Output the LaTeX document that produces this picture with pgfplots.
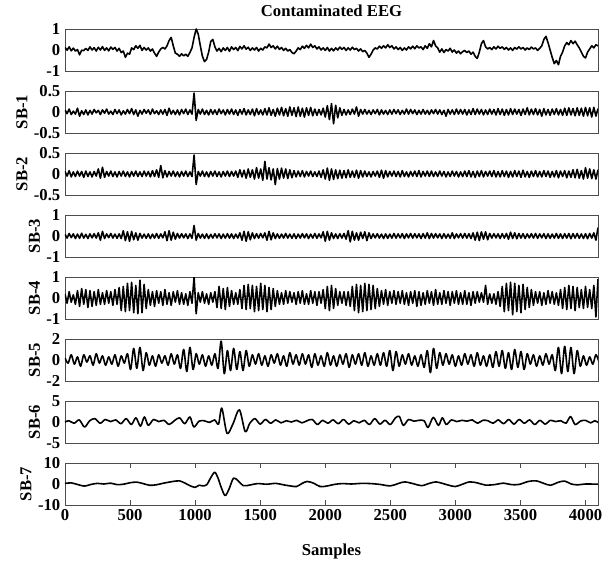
\documentclass[border=0pt]{standalone}
\usepackage{fontspec}
\setmainfont{Liberation Serif}
\usepackage{pgfplots}
\pgfplotsset{compat=1.18}

% one sub-band panel, 533 x 42 px (1 px = 0.75 pt)
\pgfplotsset{
  panel/.style={
    scale only axis, width=399.75pt, height=31.5pt,
    xmin=0, xmax=4096,
    axis line style={black!70, line width=0.6pt},
    xtick=\empty,
    ytick style={draw=none},
    tick label style={font=\fontsize{12.5}{14}\selectfont\bfseries},
    label style={font=\fontsize{12.5}{14}\selectfont\bfseries},
    title style={font=\fontsize{12.5}{14}\selectfont\bfseries},
    ylabel style={yshift=-2pt},
    cycle list={{black, mark=none}},
    every axis plot post/.append style={line width=1.2pt, line join=round},
  },
}

\begin{document}
\begin{tikzpicture}
\path[use as bounding box] (0,0) rectangle (456pt,-425.25pt);

% Contaminated EEG
\begin{axis}[panel, at={(48.75pt,-21.75pt)}, anchor=north west,
  ymin=-1, ymax=1, ytick={-1,0,1}, yticklabels={-1,0,1},
  title={Contaminated EEG}]
\addplot table[header=false, row sep=\\, x expr=\coordindex*16, y index=0] {
0.13\\ -0.01\\ 0.15\\ -0.04\\ 0.09\\ -0.05\\ 0.02\\ -0.23\\ -0.01\\ -0.03\\ 0.07\\ -0.02\\ 0.15\\ 0.0\\ 0.11\\ -0.05\\
0.13\\ 0.0\\ 0.16\\ -0.02\\ 0.1\\ -0.04\\ 0.14\\ 0.03\\ 0.12\\ -0.05\\ 0.08\\ -0.12\\ -0.05\\ -0.35\\ -0.15\\ -0.2\\
0.1\\ 0.02\\ 0.2\\ 0.08\\ 0.22\\ -0.02\\ 0.12\\ 0.0\\ 0.1\\ -0.05\\ 0.05\\ -0.15\\ -0.3\\ -0.1\\ 0.05\\ 0.12\\
0.05\\ 0.2\\ 0.45\\ 0.6\\ 0.2\\ -0.15\\ -0.2\\ -0.3\\ -0.18\\ -0.28\\ -0.2\\ -0.3\\ -0.12\\ 0.1\\ 0.6\\ 1.0\\
0.75\\ 0.2\\ -0.3\\ -0.55\\ -0.45\\ -0.1\\ 0.4\\ 0.5\\ 0.15\\ -0.05\\ 0.08\\ -0.08\\ 0.1\\ -0.02\\ 0.12\\ -0.06\\
0.15\\ 0.02\\ 0.12\\ -0.03\\ 0.17\\ 0.05\\ 0.2\\ 0.04\\ 0.13\\ -0.02\\ 0.1\\ 0.0\\ 0.12\\ -0.05\\ 0.08\\ 0.0\\
0.15\\ 0.1\\ 0.28\\ 0.12\\ 0.2\\ 0.05\\ 0.18\\ 0.03\\ 0.12\\ -0.02\\ 0.08\\ -0.05\\ 0.02\\ -0.12\\ -0.18\\ -0.05\\
0.1\\ 0.02\\ 0.18\\ 0.08\\ 0.22\\ 0.1\\ 0.28\\ 0.12\\ 0.2\\ 0.05\\ 0.15\\ 0.0\\ 0.1\\ -0.02\\ 0.12\\ -0.05\\
0.08\\ -0.04\\ 0.1\\ 0.0\\ 0.14\\ 0.03\\ 0.12\\ -0.02\\ 0.1\\ 0.0\\ 0.13\\ 0.02\\ 0.08\\ -0.05\\ 0.05\\ -0.08\\
-0.02\\ -0.15\\ -0.35\\ -0.2\\ 0.0\\ 0.1\\ 0.05\\ 0.18\\ 0.08\\ 0.2\\ 0.1\\ 0.25\\ 0.12\\ 0.2\\ 0.05\\ 0.15\\
0.02\\ 0.12\\ -0.02\\ 0.1\\ 0.0\\ 0.15\\ 0.05\\ 0.18\\ 0.06\\ 0.2\\ 0.1\\ 0.15\\ 0.02\\ 0.2\\ 0.08\\ 0.3\\
0.15\\ 0.45\\ 0.2\\ 0.1\\ -0.1\\ 0.05\\ -0.12\\ 0.02\\ -0.05\\ 0.08\\ -0.1\\ 0.0\\ -0.15\\ -0.05\\ -0.18\\ -0.08\\
-0.02\\ -0.12\\ -0.05\\ -0.2\\ -0.1\\ -0.3\\ -0.4\\ -0.1\\ 0.3\\ 0.45\\ 0.15\\ 0.05\\ 0.12\\ 0.02\\ 0.15\\ 0.05\\
0.18\\ 0.08\\ 0.15\\ 0.03\\ 0.12\\ 0.0\\ 0.1\\ -0.02\\ 0.12\\ 0.04\\ 0.15\\ 0.05\\ 0.12\\ 0.0\\ 0.1\\ 0.02\\
0.14\\ 0.05\\ 0.1\\ -0.02\\ 0.08\\ 0.2\\ 0.5\\ 0.65\\ 0.35\\ 0.0\\ -0.35\\ -0.65\\ -0.5\\ -0.7\\ -0.3\\ -0.1\\
0.2\\ 0.35\\ 0.25\\ 0.45\\ 0.3\\ 0.42\\ 0.25\\ 0.1\\ -0.1\\ -0.3\\ -0.38\\ -0.1\\ 0.05\\ 0.2\\ 0.1\\ 0.25\\
0.2\\
};
\end{axis}

% SB-1
\begin{axis}[panel, at={(48.75pt,-68.25pt)}, anchor=north west,
  ymin=-0.5, ymax=0.5, ytick={-0.5,0,0.5}, yticklabels={-0.5,0,0.5},
  ylabel={SB-1}]
\addplot table[header=false, row sep=\\, x expr=\coordindex*16, y index=0] {
0.05\\ -0.04\\ 0.07\\ -0.06\\ 0.02\\ -0.05\\ 0.09\\ -0.1\\ 0.03\\ -0.06\\ 0.05\\ -0.07\\ 0.04\\ -0.05\\ 0.06\\ -0.02\\
0.04\\ -0.06\\ 0.05\\ -0.03\\ 0.07\\ -0.05\\ 0.02\\ -0.06\\ 0.06\\ -0.04\\ 0.05\\ -0.07\\ 0.03\\ -0.05\\ 0.06\\ -0.04\\
0.08\\ -0.06\\ 0.05\\ -0.1\\ 0.04\\ -0.05\\ 0.06\\ -0.03\\ 0.05\\ -0.06\\ 0.07\\ -0.04\\ 0.03\\ -0.06\\ 0.05\\ -0.05\\
0.06\\ -0.08\\ 0.09\\ -0.05\\ 0.04\\ -0.06\\ 0.05\\ -0.07\\ 0.06\\ -0.04\\ 0.07\\ -0.06\\ 0.05\\ -0.05\\ 0.45\\ -0.2\\
0.06\\ -0.05\\ 0.07\\ -0.06\\ 0.04\\ -0.07\\ 0.06\\ -0.05\\ 0.05\\ -0.06\\ 0.07\\ -0.04\\ 0.05\\ -0.07\\ 0.06\\ -0.05\\
0.07\\ -0.06\\ 0.05\\ -0.08\\ 0.06\\ -0.05\\ 0.08\\ -0.07\\ 0.05\\ -0.06\\ 0.07\\ -0.09\\ 0.08\\ -0.06\\ 0.05\\ -0.07\\
0.08\\ -0.07\\ 0.1\\ -0.08\\ 0.06\\ -0.1\\ 0.09\\ -0.07\\ 0.11\\ -0.09\\ 0.08\\ -0.1\\ 0.12\\ -0.08\\ 0.1\\ -0.11\\
0.12\\ -0.1\\ 0.09\\ -0.12\\ 0.1\\ -0.08\\ 0.11\\ -0.09\\ 0.07\\ -0.08\\ 0.06\\ -0.07\\ 0.09\\ -0.12\\ 0.15\\ -0.18\\
0.2\\ -0.28\\ 0.16\\ -0.14\\ 0.1\\ -0.08\\ 0.06\\ -0.07\\ 0.05\\ -0.06\\ 0.07\\ -0.05\\ 0.12\\ -0.1\\ 0.06\\ -0.05\\
0.06\\ -0.05\\ 0.04\\ -0.06\\ 0.05\\ -0.04\\ 0.06\\ -0.07\\ 0.05\\ -0.05\\ 0.04\\ -0.06\\ 0.05\\ -0.05\\ 0.06\\ -0.04\\
0.05\\ -0.06\\ 0.04\\ -0.05\\ 0.07\\ -0.05\\ 0.06\\ -0.04\\ 0.05\\ -0.06\\ 0.04\\ -0.05\\ 0.06\\ -0.05\\ 0.04\\ -0.06\\
0.05\\ -0.04\\ 0.06\\ -0.05\\ 0.05\\ -0.06\\ 0.04\\ -0.1\\ 0.06\\ -0.05\\ 0.05\\ -0.06\\ 0.07\\ -0.05\\ 0.06\\ -0.05\\
0.06\\ -0.07\\ 0.05\\ -0.06\\ 0.08\\ -0.06\\ 0.07\\ -0.05\\ 0.06\\ -0.07\\ 0.05\\ -0.06\\ 0.07\\ -0.05\\ 0.06\\ -0.07\\
0.08\\ -0.06\\ 0.07\\ -0.08\\ 0.06\\ -0.07\\ 0.08\\ -0.06\\ 0.07\\ -0.05\\ 0.06\\ -0.08\\ 0.07\\ -0.06\\ 0.1\\ -0.07\\
0.07\\ -0.06\\ 0.08\\ -0.07\\ 0.06\\ -0.1\\ 0.08\\ -0.07\\ 0.06\\ -0.08\\ 0.07\\ -0.06\\ 0.08\\ -0.07\\ 0.06\\ -0.08\\
0.09\\ -0.08\\ 0.1\\ -0.07\\ 0.08\\ -0.09\\ 0.1\\ -0.08\\ 0.09\\ -0.1\\ 0.11\\ -0.09\\ 0.1\\ -0.12\\ 0.11\\ -0.1\\
0.08\\
};
\end{axis}

% SB-2
\begin{axis}[panel, at={(48.75pt,-114.75pt)}, anchor=north west,
  ymin=-0.5, ymax=0.5, ytick={-0.5,0,0.5}, yticklabels={-0.5,0,0.5},
  ylabel={SB-2}]
\addplot table[header=false, row sep=\\, x expr=\coordindex*16, y index=0] {
0.06\\ -0.05\\ 0.08\\ -0.07\\ 0.05\\ -0.06\\ 0.07\\ -0.05\\ 0.06\\ -0.08\\ 0.07\\ -0.06\\ 0.05\\ -0.07\\ 0.06\\ -0.05\\
0.12\\ -0.1\\ 0.16\\ -0.08\\ 0.06\\ -0.05\\ 0.07\\ -0.06\\ 0.05\\ -0.07\\ 0.06\\ -0.05\\ 0.07\\ -0.06\\ 0.05\\ -0.07\\
0.06\\ -0.05\\ 0.07\\ -0.06\\ 0.05\\ -0.06\\ 0.07\\ -0.05\\ 0.06\\ -0.07\\ 0.08\\ -0.06\\ 0.1\\ -0.08\\ 0.2\\ -0.09\\
0.08\\ -0.07\\ 0.06\\ -0.05\\ 0.07\\ -0.06\\ 0.05\\ -0.07\\ 0.06\\ -0.05\\ 0.07\\ -0.06\\ 0.05\\ -0.06\\ 0.45\\ -0.25\\
0.06\\ -0.05\\ 0.07\\ -0.06\\ 0.05\\ -0.07\\ 0.06\\ -0.05\\ 0.07\\ -0.06\\ 0.05\\ -0.07\\ 0.06\\ -0.05\\ 0.07\\ -0.06\\
0.06\\ -0.05\\ 0.07\\ -0.08\\ 0.1\\ -0.07\\ 0.09\\ -0.1\\ 0.12\\ -0.08\\ 0.1\\ -0.12\\ 0.15\\ -0.1\\ 0.12\\ -0.15\\
0.3\\ -0.12\\ 0.15\\ -0.14\\ 0.12\\ -0.25\\ 0.13\\ -0.12\\ 0.14\\ -0.1\\ 0.12\\ -0.11\\ 0.1\\ -0.09\\ 0.08\\ -0.07\\
0.07\\ -0.06\\ 0.08\\ -0.07\\ 0.06\\ -0.05\\ 0.07\\ -0.06\\ 0.05\\ -0.06\\ 0.07\\ -0.08\\ 0.1\\ -0.12\\ 0.14\\ -0.15\\
0.12\\ -0.13\\ 0.1\\ -0.11\\ 0.09\\ -0.1\\ 0.08\\ -0.09\\ 0.1\\ -0.08\\ 0.07\\ -0.08\\ 0.09\\ -0.1\\ 0.08\\ -0.07\\
0.07\\ -0.06\\ 0.05\\ -0.07\\ 0.06\\ -0.05\\ 0.07\\ -0.08\\ 0.09\\ -0.1\\ 0.08\\ -0.07\\ 0.06\\ -0.05\\ 0.07\\ -0.06\\
0.06\\ -0.07\\ 0.08\\ -0.06\\ 0.05\\ -0.07\\ 0.06\\ -0.05\\ 0.07\\ -0.06\\ 0.08\\ -0.07\\ 0.06\\ -0.05\\ 0.07\\ -0.06\\
0.07\\ -0.06\\ 0.05\\ -0.06\\ 0.07\\ -0.05\\ 0.06\\ -0.07\\ 0.05\\ -0.06\\ 0.07\\ -0.05\\ 0.06\\ -0.07\\ 0.05\\ -0.06\\
0.07\\ -0.06\\ 0.08\\ -0.07\\ 0.06\\ -0.08\\ 0.07\\ -0.06\\ 0.08\\ -0.07\\ 0.06\\ -0.05\\ 0.07\\ -0.06\\ 0.08\\ -0.07\\
0.06\\ -0.07\\ 0.08\\ -0.06\\ 0.07\\ -0.08\\ 0.06\\ -0.07\\ 0.08\\ -0.06\\ 0.07\\ -0.08\\ 0.09\\ -0.07\\ 0.06\\ -0.08\\
0.07\\ -0.06\\ 0.08\\ -0.07\\ 0.06\\ -0.07\\ 0.08\\ -0.06\\ 0.07\\ -0.08\\ 0.06\\ -0.07\\ 0.08\\ -0.09\\ 0.07\\ -0.06\\
0.08\\ -0.09\\ 0.07\\ -0.08\\ 0.1\\ -0.09\\ 0.11\\ -0.1\\ 0.08\\ -0.12\\ 0.15\\ -0.1\\ 0.12\\ -0.11\\ 0.1\\ -0.12\\
0.1\\
};
\end{axis}

% SB-3
\begin{axis}[panel, at={(48.75pt,-161.25pt)}, anchor=north west,
  ymin=-1, ymax=1, ytick={-1,0,1}, yticklabels={-1,0,1},
  ylabel={SB-3}]
\addplot table[header=false, row sep=\\, x expr=\coordindex*16, y index=0] {
0.08\\ -0.1\\ 0.12\\ -0.08\\ 0.1\\ -0.12\\ 0.09\\ -0.11\\ 0.13\\ -0.1\\ 0.08\\ -0.12\\ 0.1\\ -0.09\\ 0.11\\ -0.1\\
0.15\\ -0.2\\ 0.22\\ -0.12\\ 0.1\\ -0.08\\ 0.12\\ -0.1\\ 0.09\\ -0.11\\ 0.1\\ -0.12\\ 0.25\\ -0.22\\ 0.2\\ -0.25\\
0.22\\ -0.18\\ 0.15\\ -0.2\\ 0.12\\ -0.1\\ 0.09\\ -0.11\\ 0.1\\ -0.12\\ 0.09\\ -0.1\\ 0.12\\ -0.11\\ 0.1\\ -0.09\\
0.2\\ -0.22\\ 0.25\\ -0.2\\ 0.18\\ -0.15\\ 0.12\\ -0.1\\ 0.11\\ -0.09\\ 0.1\\ -0.12\\ 0.1\\ -0.11\\ 0.5\\ -0.2\\
0.12\\ -0.1\\ 0.09\\ -0.11\\ 0.1\\ -0.12\\ 0.08\\ -0.1\\ 0.11\\ -0.09\\ 0.1\\ -0.12\\ 0.09\\ -0.1\\ 0.11\\ -0.1\\
0.1\\ -0.12\\ 0.09\\ -0.1\\ 0.15\\ -0.2\\ 0.22\\ -0.25\\ 0.2\\ -0.18\\ 0.15\\ -0.12\\ 0.11\\ -0.1\\ 0.12\\ -0.09\\
0.15\\ -0.2\\ 0.22\\ -0.18\\ 0.15\\ -0.12\\ 0.1\\ -0.11\\ 0.09\\ -0.1\\ 0.12\\ -0.1\\ 0.09\\ -0.11\\ 0.1\\ -0.12\\
0.09\\ -0.1\\ 0.11\\ -0.09\\ 0.1\\ -0.12\\ 0.09\\ -0.1\\ 0.12\\ -0.11\\ 0.1\\ -0.09\\ 0.2\\ -0.25\\ 0.22\\ -0.2\\
0.15\\ -0.12\\ 0.1\\ -0.12\\ 0.11\\ -0.1\\ 0.12\\ -0.15\\ 0.25\\ -0.28\\ 0.22\\ -0.2\\ 0.15\\ -0.2\\ 0.18\\ -0.12\\
0.2\\ -0.22\\ 0.15\\ -0.12\\ 0.1\\ -0.09\\ 0.11\\ -0.1\\ 0.09\\ -0.12\\ 0.1\\ -0.11\\ 0.09\\ -0.1\\ 0.12\\ -0.1\\
0.1\\ -0.09\\ 0.11\\ -0.12\\ 0.1\\ -0.09\\ 0.12\\ -0.1\\ 0.11\\ -0.09\\ 0.1\\ -0.12\\ 0.11\\ -0.1\\ 0.15\\ -0.12\\
0.12\\ -0.1\\ 0.11\\ -0.09\\ 0.1\\ -0.12\\ 0.11\\ -0.1\\ 0.09\\ -0.11\\ 0.15\\ -0.12\\ 0.1\\ -0.09\\ 0.11\\ -0.1\\
0.12\\ -0.1\\ 0.11\\ -0.12\\ 0.15\\ -0.2\\ 0.18\\ -0.22\\ 0.2\\ -0.15\\ 0.2\\ -0.18\\ 0.12\\ -0.1\\ 0.11\\ -0.09\\
0.1\\ -0.12\\ 0.11\\ -0.1\\ 0.12\\ -0.15\\ 0.18\\ -0.12\\ 0.15\\ -0.13\\ 0.12\\ -0.1\\ 0.11\\ -0.12\\ 0.1\\ -0.09\\
0.11\\ -0.1\\ 0.12\\ -0.11\\ 0.1\\ -0.09\\ 0.11\\ -0.12\\ 0.1\\ -0.11\\ 0.09\\ -0.1\\ 0.12\\ -0.11\\ 0.1\\ -0.12\\
0.11\\ -0.1\\ 0.12\\ -0.13\\ 0.11\\ -0.1\\ 0.12\\ -0.11\\ 0.1\\ -0.12\\ 0.11\\ -0.13\\ 0.12\\ -0.1\\ 0.15\\ -0.2\\
0.4\\
};
\end{axis}

% SB-4
\begin{axis}[panel, at={(48.75pt,-207.75pt)}, anchor=north west,
  ymin=-1, ymax=1, ytick={-1,0,1}, yticklabels={-1,0,1},
  ylabel={SB-4}]
\addplot table[header=false, row sep=\\, x expr=\coordindex*16, y index=0] {
0.2\\ -0.25\\ 0.3\\ -0.2\\ 0.15\\ -0.3\\ 0.35\\ -0.4\\ 0.45\\ -0.3\\ 0.4\\ -0.45\\ 0.35\\ -0.4\\ 0.3\\ -0.35\\
0.4\\ -0.3\\ 0.25\\ -0.3\\ 0.35\\ -0.25\\ 0.3\\ -0.35\\ 0.4\\ -0.3\\ 0.5\\ -0.6\\ 0.55\\ -0.65\\ 0.7\\ -0.6\\
0.75\\ -0.7\\ 0.6\\ -0.75\\ 0.85\\ -0.7\\ 0.65\\ -0.5\\ 0.4\\ -0.35\\ 0.3\\ -0.4\\ 0.35\\ -0.25\\ 0.3\\ -0.35\\
0.4\\ -0.3\\ 0.25\\ -0.35\\ 0.3\\ -0.2\\ 0.35\\ -0.3\\ 0.25\\ -0.3\\ 0.2\\ -0.35\\ 0.3\\ -0.25\\ 1.0\\ -0.75\\
0.25\\ -0.2\\ 0.3\\ -0.25\\ 0.2\\ -0.3\\ 0.25\\ -0.2\\ 0.3\\ -0.45\\ 0.55\\ -0.5\\ 0.45\\ -0.55\\ 0.5\\ -0.4\\
0.35\\ -0.3\\ 0.25\\ -0.3\\ 0.4\\ -0.5\\ 0.6\\ -0.55\\ 0.65\\ -0.5\\ 0.6\\ -0.65\\ 0.55\\ -0.6\\ 0.7\\ -0.55\\
0.6\\ -0.65\\ 0.5\\ -0.55\\ 0.45\\ -0.4\\ 0.35\\ -0.3\\ 0.25\\ -0.3\\ 0.35\\ -0.25\\ 0.3\\ -0.2\\ 0.25\\ -0.3\\
0.3\\ -0.25\\ 0.35\\ -0.3\\ 0.2\\ -0.3\\ 0.35\\ -0.25\\ 0.3\\ -0.35\\ 0.3\\ -0.25\\ 0.4\\ -0.5\\ 0.55\\ -0.6\\
0.6\\ -0.5\\ 0.45\\ -0.35\\ 0.3\\ -0.25\\ 0.3\\ -0.35\\ 0.3\\ -0.4\\ 0.55\\ -0.6\\ 0.65\\ -0.7\\ 0.6\\ -0.65\\
0.7\\ -0.6\\ 0.65\\ -0.55\\ 0.6\\ -0.5\\ 0.45\\ -0.4\\ 0.35\\ -0.3\\ 0.4\\ -0.35\\ 0.3\\ -0.25\\ 0.35\\ -0.3\\
0.3\\ -0.25\\ 0.35\\ -0.3\\ 0.25\\ -0.35\\ 0.3\\ -0.25\\ 0.35\\ -0.4\\ 0.3\\ -0.35\\ 0.25\\ -0.3\\ 0.35\\ -0.25\\
0.3\\ -0.35\\ 0.4\\ -0.3\\ 0.25\\ -0.3\\ 0.35\\ -0.25\\ 0.3\\ -0.35\\ 0.3\\ -0.25\\ 0.35\\ -0.3\\ 0.25\\ -0.3\\
0.35\\ -0.3\\ 0.25\\ -0.35\\ 0.3\\ -0.25\\ 0.3\\ -0.2\\ 0.25\\ -0.2\\ 0.6\\ -0.3\\ 0.2\\ -0.25\\ 0.2\\ -0.3\\
0.3\\ -0.4\\ 0.55\\ -0.65\\ 0.7\\ -0.6\\ 0.75\\ -0.8\\ 0.7\\ -0.65\\ 0.6\\ -0.7\\ 0.65\\ -0.55\\ 0.5\\ -0.45\\
0.4\\ -0.35\\ 0.3\\ -0.25\\ 0.3\\ -0.35\\ 0.25\\ -0.3\\ 0.35\\ -0.25\\ 0.3\\ -0.3\\ 0.25\\ -0.35\\ 0.4\\ -0.5\\
0.5\\ -0.55\\ 0.6\\ -0.5\\ 0.55\\ -0.6\\ 0.5\\ -0.45\\ 0.4\\ -0.5\\ 0.55\\ -0.45\\ 0.4\\ -0.5\\ 0.6\\ -0.9\\
0.9\\
};
\end{axis}

% SB-5
\begin{axis}[panel, at={(48.75pt,-254.25pt)}, anchor=north west,
  ymin=-2, ymax=2, ytick={-2,0,2}, yticklabels={-2,0,2},
  ylabel={SB-5}]
\addplot+[smooth, tension=0.5] table[header=false, row sep=\\, x expr=\coordindex*24, y index=0] {
0.2\\ -0.3\\ 0.5\\ -0.4\\ 0.3\\ -0.6\\ 0.5\\ -0.2\\ 0.4\\ -0.5\\ 0.6\\ -0.3\\ 0.4\\ -0.5\\ 0.3\\ -0.4\\ 0.5\\ -0.6\\ 0.4\\ -0.3\\
0.6\\ -0.9\\ 1.1\\ -0.8\\ 1.2\\ -1.0\\ 0.7\\ -0.5\\ 0.4\\ -0.6\\ 0.5\\ -0.3\\ 0.4\\ -0.5\\ 0.6\\ -0.4\\ 0.5\\ -0.8\\ 1.0\\ -1.1\\
1.2\\ -0.9\\ 0.6\\ -0.4\\ 0.5\\ -0.6\\ 0.4\\ -0.5\\ 0.6\\ -0.8\\ 1.8\\ -1.3\\ 0.9\\ -1.0\\ 1.1\\ -0.9\\ 0.8\\ -1.0\\ 0.9\\ -0.6\\
0.5\\ -0.4\\ 0.6\\ -0.5\\ 0.4\\ -0.6\\ 0.5\\ -0.3\\ 0.6\\ -0.5\\ 0.4\\ -0.6\\ 0.7\\ -0.4\\ 0.5\\ -0.5\\ 0.6\\ -0.4\\ 0.5\\ -0.7\\
0.6\\ -0.5\\ 0.4\\ -0.6\\ 0.7\\ -0.5\\ 0.4\\ -0.6\\ 0.5\\ -0.4\\ 0.6\\ -0.7\\ 0.5\\ -0.4\\ 0.6\\ -0.5\\ 0.7\\ -0.6\\ 0.4\\ -0.5\\
0.6\\ -0.5\\ 0.7\\ -0.6\\ 0.9\\ -1.0\\ 0.8\\ -0.6\\ 0.5\\ -0.4\\ 0.6\\ -0.5\\ 0.4\\ -0.6\\ 0.5\\ -0.7\\ 0.9\\ -1.2\\ 1.1\\ -0.8\\
0.7\\ -0.5\\ 0.6\\ -0.4\\ 0.5\\ -0.6\\ 0.4\\ -0.5\\ 0.6\\ -0.4\\ 0.5\\ -0.6\\ 0.7\\ -0.5\\ 0.4\\ -0.6\\ 0.5\\ -0.7\\ 0.8\\ -0.6\\
0.9\\ -0.8\\ 0.7\\ -0.9\\ 1.0\\ -0.7\\ 0.8\\ -0.9\\ 0.6\\ -0.4\\ 0.5\\ -0.6\\ 0.4\\ -0.5\\ 0.6\\ -0.4\\ 0.5\\ -1.0\\ 1.2\\ -1.3\\
1.3\\ -1.1\\ 1.2\\ -1.3\\ 0.9\\ -0.6\\ 0.4\\ -0.5\\ 0.3\\ -0.4\\ 0.5\\ -0.2\\
};
\end{axis}

% SB-6
\begin{axis}[panel, at={(48.75pt,-300.75pt)}, anchor=north west,
  ymin=-5, ymax=5, ytick={-5,0,5}, yticklabels={-5,0,5},
  ylabel={SB-6}]
\addplot+[smooth] coordinates {
(0,0) (30,0.3) (70,-0.3) (110,0.5) (150,-1.2) (190,0.3) (230,0.8) (270,-0.3)
(310,0.6) (350,0.1) (390,0.5) (430,-0.4) (470,0.8) (510,-0.6) (545,1.0) (580,-1.0)
(610,1.2) (640,-0.8) (680,0.6) (720,0.1) (760,0.4) (800,-0.6) (840,0.3) (880,1.0)
(920,-0.4) (960,1.2) (990,-1.2) (1030,0.2) (1070,0.3) (1110,-0.1) (1150,0.5) (1180,-0.5)
(1205,3.3) (1245,-2.7) (1290,-0.5) (1340,2.9) (1385,-2.3) (1420,-0.3) (1460,0.8) (1500,-0.5)
(1540,0.6) (1580,-0.3) (1620,0.5) (1660,-0.2) (1700,0.3) (1740,0.0) (1780,0.4) (1820,-0.2)
(1860,0.3) (1900,0.6) (1940,-0.6) (1980,0.4) (2020,-0.3) (2060,0.5) (2100,-0.4) (2140,0.6)
(2180,-0.5) (2220,0.3) (2260,-0.2) (2300,0.4) (2340,-0.6) (2380,0.8) (2420,-0.5) (2460,0.4)
(2500,-0.6) (2540,1.0) (2570,1.3) (2600,-0.8) (2640,0.6) (2680,0.2) (2720,0.4) (2760,0.3)
(2790,-1.3) (2830,1.1) (2870,-0.8) (2900,1.0) (2930,-0.6) (2970,0.5) (3010,0.1) (3050,0.4)
(3090,0.2) (3130,0.5) (3170,-0.3) (3210,0.4) (3250,0.3) (3290,-0.3) (3330,0.5) (3370,-0.4)
(3410,0.6) (3450,-0.5) (3490,0.6) (3530,-0.3) (3570,0.5) (3610,-0.6) (3650,0.4) (3690,-0.5)
(3730,0.4) (3770,0.1) (3810,0.3) (3850,-0.3) (3885,1.3) (3920,-0.6) (3960,0.2) (4000,0.4)
(4040,-0.2) (4070,0.3) (4096,-0.1)
};
\end{axis}

% SB-7
\begin{axis}[panel, at={(48.75pt,-347.25pt)}, anchor=north west,
  ymin=-10, ymax=10, ytick={-10,0,10}, yticklabels={-10,0,10},
  ylabel={SB-7},
  xtick={0,500,...,4000},
  xticklabels={0,500,1000,1500,2000,2500,3000,3500,4000},
  xtick style={black!70, line width=0.6pt},
  tick align=inside, major tick length=3.75pt,
  xlabel={Samples}, xlabel style={yshift=-10pt}]
\addplot+[smooth] coordinates {
(0,0.3) (50,0.5) (100,-0.3) (150,-1.0) (200,-0.2) (250,0.3) (300,0) (350,0.4)
(400,-0.3) (450,-0.1) (500,0.6) (550,0.9) (600,0.2) (650,-0.6) (700,-0.4) (750,0.3)
(800,0.9) (850,1.4) (880,1.5) (920,0.5) (960,-0.8) (1000,-1.6) (1030,-0.6) (1060,-0.9)
(1090,-0.3) (1120,3.0) (1150,5.6) (1175,3.0) (1200,-1.5) (1230,-5.5) (1260,-2.5) (1295,2.8)
(1330,1.5) (1370,-0.8) (1420,-0.5) (1480,0.2) (1550,-0.1) (1620,0.3) (1680,-0.4) (1740,-1.0)
(1780,-1.2) (1820,0.2) (1860,1.2) (1910,0.4) (1960,-1.2) (2010,-1.0) (2070,-0.2) (2130,0.2)
(2200,0.0) (2280,0.3) (2350,0.2) (2420,-0.2) (2500,-0.9) (2560,0.2) (2610,1.0) (2680,0.1)
(2740,-0.8) (2800,0.3) (2850,1.0) (2900,0.3) (2950,-0.6) (3000,-1.2) (3050,-0.2) (3110,1.0)
(3170,0.5) (3230,-0.5) (3300,-0.3) (3370,0.4) (3430,-0.3) (3490,-0.2) (3560,1.2) (3620,1.5)
(3680,0.3) (3730,-0.6) (3790,0.8) (3840,1.4) (3890,0.0) (3940,-0.4) (4000,0.0) (4096,-0.1)
};
\end{axis}
\end{tikzpicture}
\end{document}
